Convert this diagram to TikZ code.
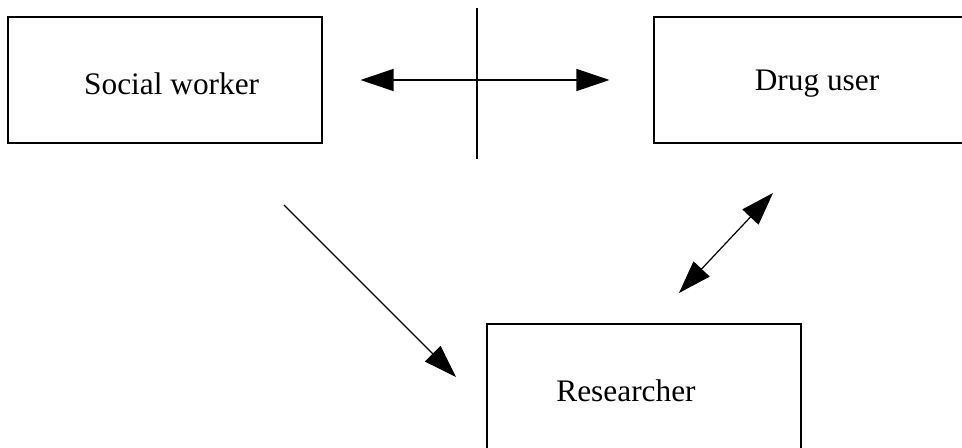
\documentclass[tikz,border=0pt]{standalone}
\usepackage{fontspec}
\setmainfont{Liberation Serif}
\usetikzlibrary{arrows.meta}

\begin{document}
\begin{tikzpicture}[x=0.75pt,y=-0.75pt,>={Triangle[length=24.75pt,width=16.5pt]},
  role/.style={draw,line width=0.8pt,minimum width=235.5pt,minimum height=94.5pt,inner sep=0pt},
  link/.style={line width=0.9pt},
  every label/.style={font=\fontsize{23.5}{28}\selectfont}]
\useasboundingbox (0,0) rectangle (962,448);
\path[clip] (0,0) rectangle (962,448);
% the three parties
\node[role,label={[xshift=5pt,yshift=-2.5pt]center:Social worker}] (sw) at (165,80) {};
\node[role,label={[xshift=4.5pt,yshift=-2.5pt]center:Drug user}] (du) at (811,80) {};
\node[role,label={[xshift=-13.5pt,yshift=-3pt]center:Researcher}] (res) at (644,387) {};
% free ends
\coordinate (vtop) at (477,8);
\coordinate (vbot) at (477,159);
\coordinate (swout) at (284,205);
\coordinate (resin) at (456,377);
\coordinate (resout) at (679,293);
\coordinate (duin) at (773,193);
\draw[link,<->,shorten <=28.5pt,shorten >=33pt] (sw.east) -- (du.west);
\draw[link] (vtop) -- (vbot);
\draw[link,->] (swout) -- (resin);
\draw[link,<->] (resout) -- (duin);
\end{tikzpicture}
\end{document}
